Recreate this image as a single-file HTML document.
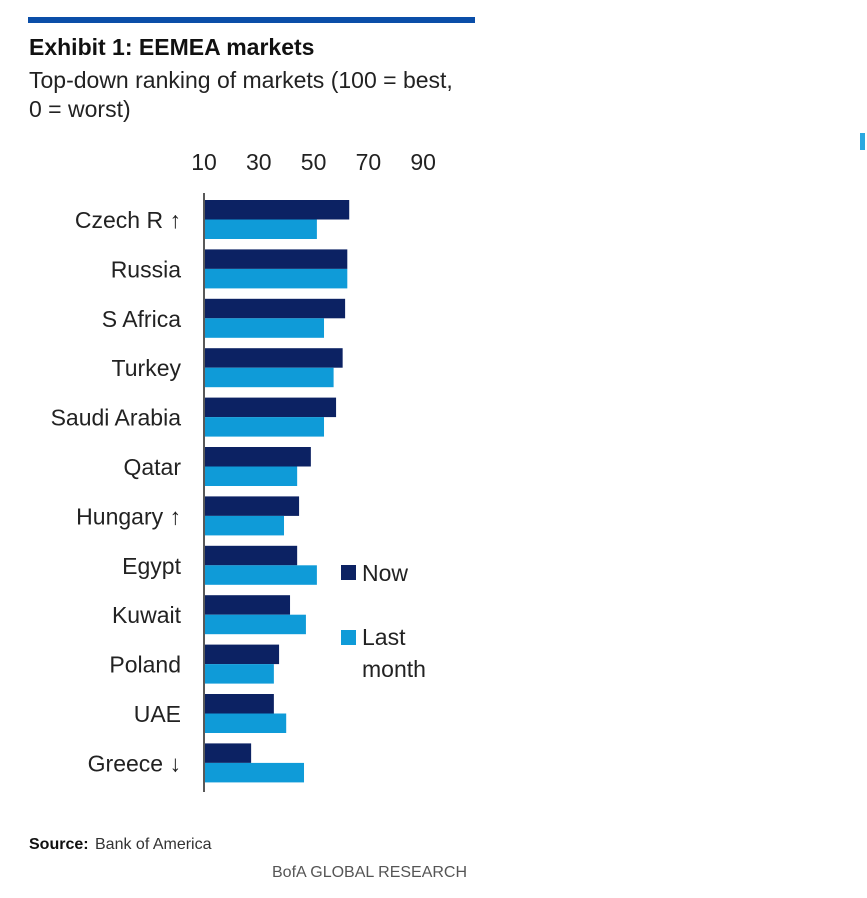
<!DOCTYPE html>
<html><head><meta charset="utf-8"><style>
body{margin:0;background:#fff;width:867px;height:893px;overflow:hidden;font-family:"Liberation Sans",sans-serif;}
</style></head><body>
<svg width="867" height="893" xmlns="http://www.w3.org/2000/svg">
<rect x="28" y="17" width="447" height="6" fill="#0a4ea8"/>
<text x="29" y="55" font-size="23" font-weight="bold" fill="#111">Exhibit 1: EEMEA markets</text>
<text x="29" y="88" font-size="23" fill="#222">Top-down ranking of markets (100 = best,</text>
<text x="29" y="117" font-size="23" fill="#222">0 = worst)</text>
<rect x="860" y="133" width="5" height="17" fill="#2aa8e0"/>
<g id="ticks"></g>
<line x1="204" y1="193" x2="204" y2="792" stroke="#222" stroke-width="1.5"/>
<g id="bars"></g>
<g id="labels"></g>
<rect x="341" y="565" width="15" height="15" fill="#0c2263"/>
<text x="362" y="581" font-size="23" fill="#222">Now</text>
<rect x="341" y="630" width="15" height="15" fill="#0f9bd8"/>
<text x="362" y="645" font-size="23" fill="#222">Last</text>
<text x="362" y="677" font-size="23" fill="#222">month</text>
<text x="29" y="849" font-size="16" font-weight="bold" fill="#111">Source:</text>
<text x="95" y="849" font-size="16" fill="#333">Bank of America</text>
<text x="272" y="877" font-size="16" fill="#555">BofA GLOBAL RESEARCH</text>
</svg>
<script>
const categories=["Czech R ↑","Russia","S Africa","Turkey","Saudi Arabia","Qatar","Hungary ↑","Egypt","Kuwait","Poland","UAE","Greece ↓"];
const nowValues=[63,62.3,61.5,60.6,58.2,49,44.7,44,41.4,37.4,35.5,27.2];
const lastValues=[51.2,62.3,53.8,57.3,53.8,44,39.2,51.2,47.2,35.5,40,46.5];
const tickValues=[10,30,50,70,90];
const NS="http://www.w3.org/2000/svg";
function xs(v){return 204+(v-10)*2.74;}
function rowY(i){return 200+i*49.4;}
const tg=document.getElementById('ticks'),bg=document.getElementById('bars'),lg=document.getElementById('labels');
tickValues.forEach(t=>{const e=document.createElementNS(NS,'text');e.setAttribute('x',xs(t));e.setAttribute('y',170);e.setAttribute('font-size','23');e.setAttribute('text-anchor','middle');e.setAttribute('fill','#222');e.textContent=t;


tg.appendChild(e);});
categories.forEach((c,i)=>{const y=rowY(i);
const a=document.createElementNS(NS,'rect');a.setAttribute('x',205);a.setAttribute('y',y);a.setAttribute('width',xs(nowValues[i])-205);a.setAttribute('height',19.5);a.setAttribute('fill','#0c2263');


bg.appendChild(a);
const b=document.createElementNS(NS,'rect');b.setAttribute('x',205);b.setAttribute('y',y+19.5);b.setAttribute('width',xs(lastValues[i])-205);b.setAttribute('height',19.5);b.setAttribute('fill','#0f9bd8');


bg.appendChild(b);
const t=document.createElementNS(NS,'text');t.setAttribute('x',181);t.setAttribute('y',y+28);t.setAttribute('font-size','23');t.setAttribute('text-anchor','end');t.setAttribute('fill','#222');t.textContent=c;


lg.appendChild(t);});
</script>
</body></html>
